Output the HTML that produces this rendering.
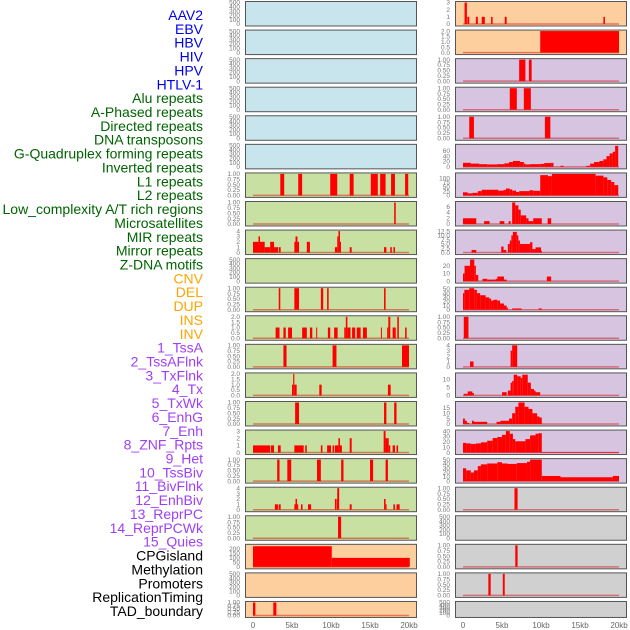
<!DOCTYPE html>
<html><head><meta charset="utf-8"><style>
html,body{margin:0;padding:0;background:#fff;width:630px;height:630px;overflow:hidden}
svg{display:block;font-family:"Liberation Sans",sans-serif}
</style></head><body>
<svg id="chart" width="630" height="630" viewBox="0 0 630 630"></svg>
<script>
const labelTexts = ["AAV2","EBV","HBV","HIV","HPV","HTLV-1","Alu repeats","A-Phased repeats","Directed repeats","DNA transposons","G-Quadruplex forming repeats","Inverted repeats","L1 repeats","L2 repeats","Low_complexity A/T rich regions","Microsatellites","MIR repeats","Mirror repeats","Z-DNA motifs","CNV","DEL","DUP","INS","INV","1_TssA","2_TssAFlnk","3_TxFlnk","4_Tx","5_TxWk","6_EnhG","7_Enh","8_ZNF_Rpts","9_Het","10_TssBiv","11_BivFlnk","12_EnhBiv","13_ReprPC","14_ReprPCWk","15_Quies","CPGisland","Methylation","Promoters","ReplicationTiming","TAD_boundary"];
const labelGroups = [6,13,5,15,5];
const groupColors = ["#0000ee","#006400","#ffa500","#9f3ff5","#000000"];
const xTickValues = [0,5,10,15,20];
const xTickLabels = ["0","5kb","10kb","15kb","20kb"];
const col1Colors = ["b","b","b","b","b","b","g","g","g","g","g","g","g","g","g","g","g","g","g","o","o","o"];
const col2Colors = ["o","o","p","p","p","p","p","p","p","p","p","p","p","p","p","p","p","k","k","k","k","k"];
const col1Ymax = [500,500,500,500,500,500,1,1,4,500,1,2,1,2,1,3,1,4,1,240,500,1];
const col2Ymax = [3,2,1,1,1,80,125,7.5,12.5,28,52,1,4,13.5,20,40,50,1,500,1,1,500];
const col1Ticks = ["E","E","E","E","E","E","P","P",[0,1,2,3,4],"E","P",[0,0.5,1,1.5,2],"P",[0,0.5,1,1.5,2],"P",[0,1,2,3],"P",[0,1,2,3,4],"P",[0,50,100,150,200],"E","P"];
const col2Ticks = [[0,1,2,3],[0,0.5,1,1.5,2],"P","P","P",[0,20,40,60],[0,25,50,75,100],[0,2,4,6],[0,2.5,5,7.5,10,12.5],[0,10,20],[0,10,20,30,40,50],"P",[0,1,2,3,4],[0,5,10],[0,5,10,15],[0,10,20,30,40],[0,10,20,30,40,50],"P","E","P","P","E"];
// segments [startKb, endKb, value]
const c1r6 = [[3.5,4.0,1],[5.8,6.3,1],[9.9,10.8,1],[12.4,12.9,1],[15.1,16.0,1],[16.3,17.0,1],[17.7,18.2,1],[19.5,19.9,1]];
const c1r7 = [[18.1,18.3,1]];
const c1r8 = [[0,0.7,2],[0.7,0.9,3],[0.9,1.5,2],[1.5,2.2,1],[2.2,2.7,2],[2.7,3.2,1],[3.3,3.55,1],[5.3,5.45,2],[5.45,5.7,3],[5.7,5.9,2],[6.9,7.3,2],[10.5,10.8,1],[10.8,10.95,3],[10.95,11.15,4],[11.15,11.2,2],[12.4,12.65,1],[16.8,17.1,1],[17.6,17.8,1],[18.0,18.2,1]];
const c1r10 = [[3.3,3.5,1],[5.3,5.9,1],[8.7,9.0,1],[9.5,9.7,1],[16.8,17.0,1]];
const c1r11 = [[2.9,3.4,1],[3.9,4.2,1],[4.5,5.0,1],[6.3,6.9,1],[7.3,7.6,1],[8.1,8.2,1],[9.6,9.9,1],[10.4,10.85,1],[11.7,11.9,1],[11.9,12.1,2],[12.1,12.5,1],[12.7,13.1,1],[13.3,13.8,1],[14.1,14.6,1],[16.4,16.5,1],[17.2,17.35,1],[17.35,17.6,2],[17.9,18.3,1],[18.5,18.7,2],[19.5,19.7,1]];
const c1r12 = [[3.9,4.3,1],[10.2,10.7,1],[19.1,20.0,1]];
const c1r13 = [[5.0,5.15,1],[5.15,5.3,2],[5.3,5.6,1],[8.5,8.8,1],[17.3,17.65,1]];
const c1r14 = [[5.4,5.9,1],[16.8,17.1,1],[18.1,18.4,1]];
const c1r15 = [[0,2.2,1],[2.3,2.7,1],[3.2,3.55,1],[5.3,6.5,1],[6.7,6.9,1],[8.7,8.9,1],[9.5,10.0,1],[10.2,10.4,1],[10.5,10.95,1],[10.95,11.15,2],[11.15,11.4,1],[12.4,12.65,2],[16.75,17.0,3],[17.0,17.4,2],[17.4,17.6,1],[17.9,18.2,1],[18.4,18.6,1]];
const c1r16 = [[3.1,3.4,1],[4.4,4.9,1],[8.2,8.7,1],[11.3,11.6,1],[15.0,15.4,1],[17.0,17.3,1]];
const c1r17 = [[2.8,3.2,1],[3.3,3.55,1],[5.3,5.45,1],[5.45,5.65,2],[5.65,5.8,1],[6.15,6.35,1],[7.05,7.45,1],[10.5,10.65,2],[10.7,10.8,2],[10.8,11.05,4],[12.4,12.65,1],[16.8,17.0,2],[17.0,17.1,1],[18.0,18.2,1],[18.4,18.8,1]];
const c1r18 = [[10.9,11.3,1]];
const c1r19 = [[0,10.1,230],[10.1,20.1,100]];
const c1r21 = [[0,0.3,1],[2.6,3.0,1]];
const c2r0 = [[0.2,0.5,3],[0.55,0.8,1],[1.65,1.9,1],[2.4,2.8,1],[3.6,3.8,1],[5.35,5.6,1],[18.0,18.2,1]];
const c2r1 = [[9.9,20.0,2]];
const c2r2 = [[7.2,8.0,1],[8.45,8.8,1]];
const c2r3 = [[6.0,6.9,1],[7.8,8.7,1]];
const c2r4 = [[0.8,1.4,1],[10.5,11.2,1]];
const c2r5 = [[0,1.0,15],[1.0,2.1,12],[2.1,3.1,10],[3.1,4.4,9],[4.4,5.3,10],[5.3,5.9,13],[5.9,6.4,18],[6.4,7.3,22],[7.3,7.8,18],[7.8,8.0,12],[8.0,8.6,9],[8.6,9.9,10],[9.9,10.4,11],[10.4,11.3,14],[11.3,11.6,15],[12.5,12.9,4],[15.8,16.3,4],[16.3,16.8,12],[16.8,17.5,18],[17.5,18.0,22],[18.0,18.4,28],[18.4,18.8,40],[18.8,19.2,50],[19.2,19.5,56],[19.5,19.9,78]];
const c2r6 = [[0,0.6,18],[0.6,1.2,12],[1.2,1.9,15],[1.9,2.4,25],[2.4,4.5,33],[4.5,5.2,28],[5.2,5.5,32],[5.5,6.0,40],[6.0,6.3,35],[6.3,6.8,28],[6.8,7.2,20],[7.2,8.5,25],[8.5,9.0,30],[9.0,9.9,27],[9.9,10.9,118],[10.9,11.4,112],[11.4,17.0,125],[17.0,18.0,115],[18.0,18.5,105],[18.5,19.0,90],[19.0,19.4,78],[19.4,19.9,60]];
const c2r7 = [[0,1.7,2],[2.7,3.4,1],[4.7,5.3,1],[5.85,6.1,1],[6.3,6.7,7.5],[6.7,7.1,6.5],[7.1,7.4,5],[7.4,8.1,3],[8.1,8.4,2],[8.4,9.0,1],[9.0,10.1,2],[10.85,11.3,2]];
const c2r8 = [[1.1,1.7,1.5],[4.9,5.2,3.5],[5.2,5.55,1.5],[5.75,6.0,5],[6.0,6.2,7],[6.2,6.4,10],[6.4,6.9,12],[6.9,7.1,10],[7.1,7.3,7],[7.3,8.6,5],[8.6,8.9,6],[8.9,9.3,2],[9.3,10.0,3],[10.0,10.1,1]];
const c2r9 = [[0,0.2,10],[0.2,0.9,20],[0.9,1.45,28],[1.45,1.65,20],[1.65,1.95,8],[2.5,3.1,3],[3.1,4.2,2],[4.2,4.4,3],[4.4,5.25,6],[5.25,5.6,2],[10.75,11.3,6]];
const c2r10 = [[0,0.17,40],[0.17,0.8,48],[0.8,1.44,52],[1.44,1.78,48],[1.78,2.2,40],[2.2,2.9,35],[2.9,3.35,30],[3.35,3.6,27],[3.6,3.9,22],[3.9,4.4,24],[4.4,4.75,22],[4.75,5.25,15],[5.25,5.6,10],[5.6,5.76,5],[6.3,7.5,3],[9.7,10.1,3]];
const c2r11 = [[0.1,0.7,1]];
const c2r12 = [[0.9,1.35,1],[6.1,6.3,3],[6.3,6.95,4]];
const c2r13 = [[0.1,0.6,1],[0.6,1.2,2.5],[1.2,1.4,1.5],[5.0,5.6,2],[5.75,6.1,3],[6.1,6.3,8],[6.3,6.5,9],[6.5,6.95,13],[6.95,7.4,12],[7.4,7.6,11],[7.6,8.3,13],[8.3,8.7,8],[8.7,9.1,4],[9.1,9.3,3],[9.3,9.9,2]];
const c2r14 = [[0,0.25,5],[0.25,0.5,3],[0.5,0.8,1],[1.15,1.4,3],[1.4,3.1,2],[4.3,4.8,2],[4.8,5.9,3],[5.9,6.3,5],[6.3,6.7,10],[6.7,7.1,16],[7.1,7.9,20],[7.9,8.4,16],[8.4,8.9,14],[8.9,9.5,10],[9.5,9.8,7],[9.8,10.1,6]];
const c2r15 = [[0,0.4,18],[0.4,1.0,17],[1.0,1.65,16],[1.65,2.3,17],[2.3,3.1,19],[3.1,3.8,22],[3.8,4.4,27],[4.4,5.0,29],[5.0,5.5,33],[5.5,6.0,40],[6.0,6.4,35],[6.4,6.7,25],[6.7,8.0,21],[8.0,8.6,25],[8.6,9.3,32],[9.3,9.7,35],[9.7,10.1,36],[10.1,20.0,1]];
const c2r16 = [[0,0.4,30],[0.4,1.0,25],[1.0,1.4,20],[1.4,1.9,25],[1.9,2.3,35],[2.3,3.1,39],[3.1,4.4,41],[4.4,5.0,44],[5.0,5.7,41],[5.7,6.9,40],[6.9,8.2,42],[8.2,8.6,45],[8.6,10.1,50],[10.1,12.5,12],[12.5,19.2,9],[19.2,20.0,12]];
const c2r17 = [[6.6,7.0,1]];
const c2r19 = [[6.7,7.0,1]];
const c2r20 = [[3.25,3.55,1],[5.1,5.35,1]];
const col1Data = [[],[],[],[],[],[],c1r6,c1r7,c1r8,[],c1r10,c1r11,c1r12,c1r13,c1r14,c1r15,c1r16,c1r17,c1r18,c1r19,[],c1r21];
const col2Data = [c2r0,c2r1,c2r2,c2r3,c2r4,c2r5,c2r6,c2r7,c2r8,c2r9,c2r10,c2r11,c2r12,c2r13,c2r14,c2r15,c2r16,c2r17,[],c2r19,c2r20,[]];

const NS = "http://www.w3.org/2000/svg";
const svg = document.getElementById('chart');
function mk(tag, attrs, parent){const e=document.createElementNS(NS,tag);for(const k in attrs)e.setAttribute(k,attrs[k]);(parent||svg).appendChild(e);return e;}
const fills = {b:"#c8e4ec",g:"#c8e0a2",o:"#fecf9e",p:"#d6c4e1",k:"#d0d0d0"};
const colX = [245,455];
const panelW = 171, pitch = 28.57;
function pH(r){return r===21 ? 16 : 24.5;}
function xScale(col, kb){return colX[col] + 8 + kb*7.8;}
function yScale(top, h, v, ymax){const y0 = top+h-1.5, y1 = top+1.5; return y0 - (v/ymax)*(y0-y1);}
function fmt(t, ticks){
  const dec = ticks.some(v=>Math.abs(v*4-Math.round(v*4))<1e-9 && v%0.5!==0) ? 2 : (ticks.some(v=>v%1!==0)?1:0);
  return t.toFixed(dec);
}

let li = 0;
labelGroups.forEach((n,g)=>{
  for(let k=0;k<n;k++){
    const t = mk('text',{x:203,y:20+li*13.86,'text-anchor':'end','font-size':14,fill:groupColors[g]});
    t.textContent = labelTexts[li];
    
    
    li++;
  }
});

function drawPanel(col, r, color, ymax, ticks, data){
  const top = 1 + r*pitch;
  const h = pH(r);
  const g = mk('g',{});
  
  
  const bg = mk('rect',{x:colX[col]+0.5,y:top+0.5,width:panelW,height:h,fill:fills[color],stroke:'#555','stroke-width':1},g);
  
  
  let tk = ticks;
  if(ticks==="E"){tk=[0,100,200,300,400,500];}
  if(ticks==="P"){tk=[0,0.25,0.5,0.75,1];}
  tk.forEach(v=>{
    const t = mk('text',{x:colX[col]-5,y:yScale(top,h,v,ymax)+2.2,'text-anchor':'end','font-size':6.5,fill:'#777'},g);
    t.textContent = ticks==="P" ? v.toFixed(2) : fmt(v,tk);
    
    
  });
  if(data.length){
    const bl = mk('line',{x1:xScale(col,0),x2:xScale(col,20),y1:top+h-1.5,y2:top+h-1.5,stroke:'rgba(210,0,0,0.45)','stroke-width':1.5},g);
    
    
  }
  data.forEach(d=>{
    const x0 = xScale(col,d[0]), x1 = xScale(col,d[1]);
    const y = yScale(top,h,d[2],ymax), yb = top+h-1.5;
    const b = mk('rect',{x:x0,y:y,width:Math.max(1,x1-x0),height:yb-y,fill:'#ff0000'},g);
    
    
  });
}
for(let r=0;r<22;r++){
  drawPanel(0,r,col1Colors[r],col1Ymax[r],col1Ticks[r],col1Data[r]);
  drawPanel(1,r,col2Colors[r],col2Ymax[r],col2Ticks[r],col2Data[r]);
}
[0,1].forEach(col=>{
  xTickValues.forEach((v,i)=>{
    const t = mk('text',{x:xScale(col,v),y:628,'text-anchor':'middle','font-size':8,fill:'#666'});
    t.textContent = xTickLabels[i];
    
    
  });
});
</script>
</body></html>
